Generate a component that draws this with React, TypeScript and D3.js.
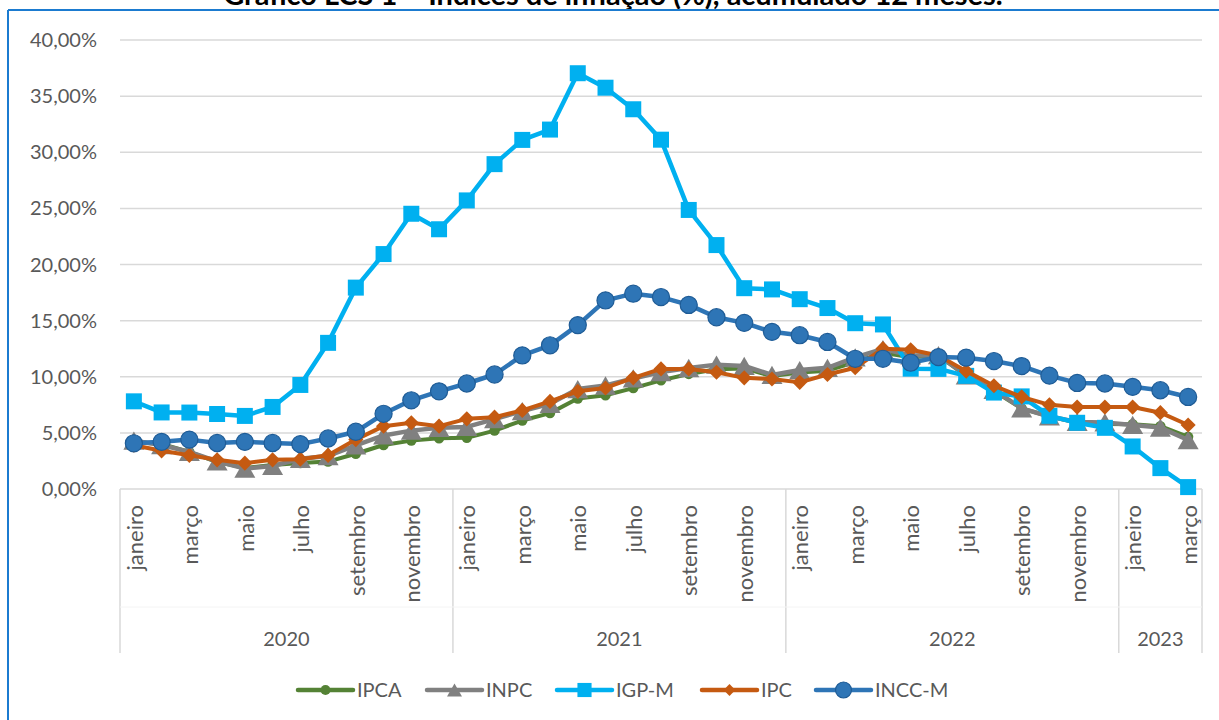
import React from "react";
import * as d3 from "d3";

const monthNames = ["janeiro","fevereiro","março","abril","maio","junho","julho","agosto","setembro","outubro","novembro","dezembro"];
const years = ["2020","2021","2022","2023"];
const monthsPerYear = [12, 12, 12, 3];

const ipca = [4.19,4.01,3.30,2.40,1.88,2.13,2.31,2.44,3.14,3.92,4.31,4.52,4.56,5.20,6.10,6.76,8.06,8.35,8.99,9.68,10.25,10.67,10.74,10.06,10.38,10.54,11.30,12.13,11.73,11.89,10.07,8.73,7.17,6.47,5.90,5.79,5.77,5.60,4.65];
const inpc = [4.30,3.92,3.31,2.46,1.81,2.05,2.69,2.94,3.89,4.77,5.20,5.45,5.53,6.22,6.94,7.59,8.90,9.22,9.85,10.42,10.78,11.08,10.96,10.16,10.60,10.80,11.73,12.47,11.90,11.92,10.12,8.83,7.19,6.46,5.97,5.93,5.71,5.47,4.36];
const igpm = [7.81,6.82,6.81,6.68,6.51,7.31,9.27,13.02,17.94,20.93,24.52,23.14,25.71,28.94,31.10,32.02,37.04,35.75,33.83,31.12,24.86,21.73,17.89,17.78,16.91,16.12,14.77,14.66,10.72,10.70,10.08,8.59,8.25,6.52,5.90,5.45,3.79,1.86,0.17];
const ipc = [3.9,3.4,3.0,2.6,2.3,2.6,2.65,3.0,4.4,5.6,5.9,5.6,6.25,6.4,7.0,7.8,8.7,9.0,9.9,10.7,10.7,10.4,9.9,9.8,9.5,10.2,10.8,12.5,12.4,11.9,10.5,9.2,8.2,7.5,7.3,7.3,7.3,6.8,5.7];
const inccm = [4.07,4.2,4.4,4.1,4.2,4.1,4.0,4.5,5.1,6.7,7.9,8.7,9.4,10.2,11.9,12.8,14.6,16.8,17.4,17.1,16.4,15.3,14.8,14.0,13.7,13.1,11.6,11.6,11.25,11.75,11.7,11.4,10.95,10.1,9.45,9.4,9.1,8.8,8.2];
const yTicks = [0,5,10,15,20,25,30,35,40];

const title = "Gráfico LCS 1 – Índices de inflação (%), acumulado 12 meses.";

type Series = { name: string; values: number[]; color: string; stroke: string; width: number; shape: string; size: number; legendSize: number };

const series: Series[] = [
  { name: "IPCA", values: ipca, color: "#548235", stroke: "#548235", width: 4, shape: "circle", size: 85, legendSize: 80 },
  { name: "INPC", values: inpc, color: "#808080", stroke: "#808080", width: 4.5, shape: "triangle", size: 21, legendSize: 15 },
  { name: "IGP-M", values: igpm, color: "#00B0F0", stroke: "#00B0F0", width: 4.5, shape: "square", size: 256, legendSize: 200 },
  { name: "IPC", values: ipc, color: "#C55A11", stroke: "#C55A11", width: 4, shape: "diamond", size: 115, legendSize: 70 },
  { name: "INCC-M", values: inccm, color: "#2E75B6", stroke: "#1F5C96", width: 4.5, shape: "circleBig", size: 230, legendSize: 200 },
];

const legendX = [298, 427, 557, 702, 816];

const locale = d3.formatLocale({ decimal: ",", thousands: ".", grouping: [3], currency: ["R$", ""] });
const fmt = locale.format(".2f");

function symbolPath(shape: string, size: number) {
  if (shape === "triangle") {
    const w = size, h = size * 0.87;
    return `M0,${-h / 2}L${w / 2},${h / 2}L${-w / 2},${h / 2}Z`;
  }
  const t = shape === "square" || shape === "diamond" ? d3.symbolSquare : d3.symbolCircle;
  return d3.symbol().type(t).size(size)() as string;
}

export default function App() {
  const W = 1219, H = 720;
  const left = 120, right = 1202, top = 40, bottom = 489;
  const categories: { year: string; month: number; idx: number }[] = [];
  years.forEach((y, yi) => {
    for (let m = 0; m < monthsPerYear[yi]; m++) categories.push({ year: y, month: m, idx: categories.length });
  });
  const x = d3.scaleBand<number>().domain(categories.map((c) => c.idx)).range([left, right]).padding(0);
  const cx = (i: number) => (x(i) as number) + x.bandwidth() / 2;
  const y = d3.scaleLinear().domain([0, 40]).range([bottom, top]);
  const line = d3.line<number>().x((_, i) => cx(i)).y((d) => y(d));
  const font = "Lato, 'Open Sans', sans-serif";
  const textColor = "#595959";
  const grid = "#D9D9D9";

  const boundaries: number[] = [left];
  let acc = 0;
  monthsPerYear.forEach((n) => { acc += n; boundaries.push((x(acc - 1) as number) + x.bandwidth()); });
  const yearCenters: { year: string; cx: number }[] = [];
  acc = 0;
  monthsPerYear.forEach((n, yi) => {
    const a = x(acc) as number;
    const b = (x(acc + n - 1) as number) + x.bandwidth();
    yearCenters.push({ year: years[yi], cx: (a + b) / 2 });
    acc += n;
  });

  return (
    <svg width={W} height={H} style={{ position: "absolute", left: 0, top: 0, background: "#fff" }}>
      <rect x={0} y={0} width={W} height={H} fill="#fff" />
      <text x={613} y={5} textAnchor="middle" fontFamily="Lato, sans-serif" fontWeight="bold" fontSize={29} fill="#000">{title}</text>
      <line x1={8} x2={W} y1={10} y2={10} stroke="#1B7BD0" strokeWidth={2} />
      <line x1={8} x2={8} y1={10} y2={H} stroke="#1B7BD0" strokeWidth={2} />

      {yTicks.map((t) => (
        <g key={t}>
          <line x1={left} x2={right} y1={y(t)} y2={y(t)} stroke={grid} strokeWidth={1.5} />
          <text x={97} y={y(t)} dy="0.35em" textAnchor="end" fontFamily={font} fontSize={20} fill={textColor}>{fmt(t) + "%"}</text>
        </g>
      ))}

      {boundaries.map((b, i) => (
        <line key={i} x1={b} x2={b} y1={bottom} y2={653} stroke={grid} strokeWidth={1.5} />
      ))}
      <line x1={left} x2={right} y1={607} y2={607} stroke="#F4F4F4" strokeWidth={1} />

      {categories.filter((c) => c.month % 2 === 0).map((c) => (
        <text key={c.idx} transform={`translate(${cx(c.idx) + 1},505) rotate(-90)`} dy="0.35em" textAnchor="end" fontFamily={font} fontSize={22} fill={textColor}>{monthNames[c.month]}</text>
      ))}
      {yearCenters.map((yc) => (
        <text key={yc.year} x={yc.cx} y={639} dy="0.35em" textAnchor="middle" fontFamily={font} fontSize={20} fill={textColor}>{yc.year}</text>
      ))}

      {series.map((s) => (
        <g key={s.name}>
          <path d={line(s.values) as string} fill="none" stroke={s.color} strokeWidth={s.width} strokeLinejoin="round" strokeLinecap="round" />
          {s.values.map((v, i) => (
            <path key={i} d={symbolPath(s.shape, s.size)} transform={`translate(${cx(i)},${y(v)})${s.shape === "diamond" ? " rotate(45)" : ""}`} fill={s.color} stroke={s.stroke} strokeWidth={s.shape === "circleBig" ? 1.2 : 0} />
          ))}
        </g>
      ))}

      {series.map((s, i) => {
        const x0 = legendX[i];
        const x1 = x0 + 55;
        const my = 690;
        return (
          <g key={s.name}>
            <line x1={x0} x2={x1} y1={my} y2={my} stroke={s.color} strokeWidth={4.5} strokeLinecap="round" />
            <path d={symbolPath(s.shape, s.legendSize)} transform={`translate(${(x0 + x1) / 2},${my})${s.shape === "diamond" ? " rotate(45)" : ""}`} fill={s.color} stroke={s.stroke} strokeWidth={s.shape === "circleBig" ? 1.2 : 0} />
            <text x={x1 + 4} y={my} dy="0.35em" fontFamily={font} fontSize={20} fill={textColor}>{s.name}</text>
          </g>
        );
      })}
    </svg>
  );
}
